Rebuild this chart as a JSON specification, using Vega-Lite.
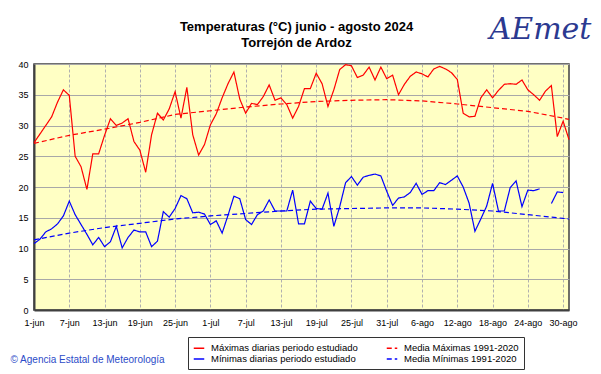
{
  "$schema": "https://vega.github.io/schema/vega-lite/v6.json",
  "width": 535,
  "height": 246,
  "autosize": {"type": "none"},
  "padding": {"left": 34, "top": 64, "right": 32, "bottom": 64},
  "background": "white",
  "title": {
    "text": ["Temperaturas (°C) junio - agosto 2024", "Torrejón de Ardoz"],
    "font": "Liberation Sans",
    "fontSize": 13,
    "fontWeight": "bold",
    "color": "black",
    "lineHeight": 16,
    "anchor": "middle",
    "offset": 0,
    "dx": -5,
    "dy": 36
  },
  "config": {
    "view": {"fill": "#FFFFC4", "stroke": "#404040", "strokeWidth": 1.5},
    "font": "Liberation Sans",
    "axis": {
      "labelFont": "Liberation Sans",
      "labelFontSize": 9,
      "labelColor": "black",
      "ticks": false,
      "domainColor": "#404040",
      "domainWidth": 2,
      "gridColor": "#A8A8A8",
      "gridOpacity": 1
    }
  },
  "data": {
    "values": [
      {"fecha": "2024-06-01", "tmax": 27.2, "tmin": 10.8, "nmax": 27.1, "nmin": 11.4},
      {"fecha": "2024-06-02", "tmax": 28.6, "tmin": 11.5, "nmax": null, "nmin": null},
      {"fecha": "2024-06-03", "tmax": 30.0, "tmin": 12.7, "nmax": null, "nmin": null},
      {"fecha": "2024-06-04", "tmax": 31.4, "tmin": 13.2, "nmax": null, "nmin": null},
      {"fecha": "2024-06-05", "tmax": 33.8, "tmin": 14.0, "nmax": null, "nmin": null},
      {"fecha": "2024-06-06", "tmax": 35.8, "tmin": 15.3, "nmax": null, "nmin": null},
      {"fecha": "2024-06-07", "tmax": 34.9, "tmin": 17.7, "nmax": 28.4, "nmin": 12.5},
      {"fecha": "2024-06-08", "tmax": 25.0, "tmin": 15.5, "nmax": null, "nmin": null},
      {"fecha": "2024-06-09", "tmax": 23.3, "tmin": 13.9, "nmax": null, "nmin": null},
      {"fecha": "2024-06-10", "tmax": 19.6, "tmin": 12.3, "nmax": null, "nmin": null},
      {"fecha": "2024-06-11", "tmax": 25.4, "tmin": 10.6, "nmax": null, "nmin": null},
      {"fecha": "2024-06-12", "tmax": 25.4, "tmin": 11.8, "nmax": null, "nmin": null},
      {"fecha": "2024-06-13", "tmax": 28.4, "tmin": 10.3, "nmax": 29.4, "nmin": 13.4},
      {"fecha": "2024-06-14", "tmax": 31.1, "tmin": 11.1, "nmax": null, "nmin": null},
      {"fecha": "2024-06-15", "tmax": 30.0, "tmin": 13.6, "nmax": null, "nmin": null},
      {"fecha": "2024-06-16", "tmax": 30.4, "tmin": 10.1, "nmax": null, "nmin": null},
      {"fecha": "2024-06-17", "tmax": 31.1, "tmin": 11.8, "nmax": null, "nmin": null},
      {"fecha": "2024-06-18", "tmax": 27.4, "tmin": 13.0, "nmax": null, "nmin": null},
      {"fecha": "2024-06-19", "tmax": 26.0, "tmin": 12.7, "nmax": 30.5, "nmin": 14.1},
      {"fecha": "2024-06-20", "tmax": 22.4, "tmin": 12.7, "nmax": null, "nmin": null},
      {"fecha": "2024-06-21", "tmax": 28.5, "tmin": 10.3, "nmax": null, "nmin": null},
      {"fecha": "2024-06-22", "tmax": 32.0, "tmin": 11.2, "nmax": null, "nmin": null},
      {"fecha": "2024-06-23", "tmax": 30.9, "tmin": 16.0, "nmax": null, "nmin": null},
      {"fecha": "2024-06-24", "tmax": 32.7, "tmin": 15.1, "nmax": null, "nmin": null},
      {"fecha": "2024-06-25", "tmax": 35.5, "tmin": 16.5, "nmax": 31.8, "nmin": 14.8},
      {"fecha": "2024-06-26", "tmax": 31.2, "tmin": 18.6, "nmax": null, "nmin": null},
      {"fecha": "2024-06-27", "tmax": 36.2, "tmin": 18.1, "nmax": null, "nmin": null},
      {"fecha": "2024-06-28", "tmax": 28.5, "tmin": 15.8, "nmax": null, "nmin": null},
      {"fecha": "2024-06-29", "tmax": 25.2, "tmin": 15.9, "nmax": null, "nmin": null},
      {"fecha": "2024-06-30", "tmax": 26.9, "tmin": 15.6, "nmax": null, "nmin": null},
      {"fecha": "2024-07-01", "tmax": 30.1, "tmin": 13.9, "nmax": 32.4, "nmin": 15.3},
      {"fecha": "2024-07-02", "tmax": 31.9, "tmin": 14.5, "nmax": null, "nmin": null},
      {"fecha": "2024-07-03", "tmax": 34.5, "tmin": 12.5, "nmax": null, "nmin": null},
      {"fecha": "2024-07-04", "tmax": 36.8, "tmin": 15.4, "nmax": null, "nmin": null},
      {"fecha": "2024-07-05", "tmax": 38.7, "tmin": 18.5, "nmax": null, "nmin": null},
      {"fecha": "2024-07-06", "tmax": 34.3, "tmin": 18.1, "nmax": null, "nmin": null},
      {"fecha": "2024-07-07", "tmax": 32.0, "tmin": 14.7, "nmax": 33.0, "nmin": 15.7},
      {"fecha": "2024-07-08", "tmax": 33.6, "tmin": 13.9, "nmax": null, "nmin": null},
      {"fecha": "2024-07-09", "tmax": 33.4, "tmin": 15.5, "nmax": null, "nmin": null},
      {"fecha": "2024-07-10", "tmax": 34.7, "tmin": 16.1, "nmax": null, "nmin": null},
      {"fecha": "2024-07-11", "tmax": 36.6, "tmin": 17.9, "nmax": null, "nmin": null},
      {"fecha": "2024-07-12", "tmax": 34.1, "tmin": 16.1, "nmax": null, "nmin": null},
      {"fecha": "2024-07-13", "tmax": 34.5, "tmin": 16.1, "nmax": 33.5, "nmin": 16.1},
      {"fecha": "2024-07-14", "tmax": 33.4, "tmin": 16.1, "nmax": null, "nmin": null},
      {"fecha": "2024-07-15", "tmax": 31.2, "tmin": 19.5, "nmax": null, "nmin": null},
      {"fecha": "2024-07-16", "tmax": 33.1, "tmin": 14.0, "nmax": null, "nmin": null},
      {"fecha": "2024-07-17", "tmax": 36.0, "tmin": 14.0, "nmax": null, "nmin": null},
      {"fecha": "2024-07-18", "tmax": 36.0, "tmin": 17.7, "nmax": null, "nmin": null},
      {"fecha": "2024-07-19", "tmax": 38.5, "tmin": 16.5, "nmax": 33.9, "nmin": 16.4},
      {"fecha": "2024-07-20", "tmax": 36.8, "tmin": 16.4, "nmax": null, "nmin": null},
      {"fecha": "2024-07-21", "tmax": 33.1, "tmin": 19.0, "nmax": null, "nmin": null},
      {"fecha": "2024-07-22", "tmax": 35.8, "tmin": 13.6, "nmax": null, "nmin": null},
      {"fecha": "2024-07-23", "tmax": 39.1, "tmin": 16.8, "nmax": null, "nmin": null},
      {"fecha": "2024-07-24", "tmax": 39.9, "tmin": 20.7, "nmax": null, "nmin": null},
      {"fecha": "2024-07-25", "tmax": 39.7, "tmin": 21.7, "nmax": 34.1, "nmin": 16.5},
      {"fecha": "2024-07-26", "tmax": 37.8, "tmin": 20.3, "nmax": null, "nmin": null},
      {"fecha": "2024-07-27", "tmax": 38.2, "tmin": 21.6, "nmax": null, "nmin": null},
      {"fecha": "2024-07-28", "tmax": 39.5, "tmin": 21.9, "nmax": null, "nmin": null},
      {"fecha": "2024-07-29", "tmax": 37.4, "tmin": 22.1, "nmax": null, "nmin": null},
      {"fecha": "2024-07-30", "tmax": 39.5, "tmin": 21.8, "nmax": null, "nmin": null},
      {"fecha": "2024-07-31", "tmax": 37.6, "tmin": 19.3, "nmax": 34.2, "nmin": 16.6},
      {"fecha": "2024-08-01", "tmax": 38.2, "tmin": 17.0, "nmax": null, "nmin": null},
      {"fecha": "2024-08-02", "tmax": 35.0, "tmin": 18.2, "nmax": null, "nmin": null},
      {"fecha": "2024-08-03", "tmax": 36.7, "tmin": 18.4, "nmax": null, "nmin": null},
      {"fecha": "2024-08-04", "tmax": 38.0, "tmin": 19.1, "nmax": null, "nmin": null},
      {"fecha": "2024-08-05", "tmax": 38.7, "tmin": 20.6, "nmax": null, "nmin": null},
      {"fecha": "2024-08-06", "tmax": 38.4, "tmin": 18.8, "nmax": 34.0, "nmin": 16.6},
      {"fecha": "2024-08-07", "tmax": 37.9, "tmin": 19.4, "nmax": null, "nmin": null},
      {"fecha": "2024-08-08", "tmax": 39.2, "tmin": 19.4, "nmax": null, "nmin": null},
      {"fecha": "2024-08-09", "tmax": 39.6, "tmin": 20.7, "nmax": null, "nmin": null},
      {"fecha": "2024-08-10", "tmax": 39.2, "tmin": 20.4, "nmax": null, "nmin": null},
      {"fecha": "2024-08-11", "tmax": 38.6, "tmin": 21.1, "nmax": null, "nmin": null},
      {"fecha": "2024-08-12", "tmax": 37.5, "tmin": 21.8, "nmax": 33.5, "nmin": 16.4},
      {"fecha": "2024-08-13", "tmax": 32.0, "tmin": 20.0, "nmax": null, "nmin": null},
      {"fecha": "2024-08-14", "tmax": 31.4, "tmin": 17.4, "nmax": null, "nmin": null},
      {"fecha": "2024-08-15", "tmax": 31.5, "tmin": 12.8, "nmax": null, "nmin": null},
      {"fecha": "2024-08-16", "tmax": 34.5, "tmin": 14.8, "nmax": null, "nmin": null},
      {"fecha": "2024-08-17", "tmax": 35.8, "tmin": 16.9, "nmax": null, "nmin": null},
      {"fecha": "2024-08-18", "tmax": 34.5, "tmin": 20.6, "nmax": 32.9, "nmin": 16.1},
      {"fecha": "2024-08-19", "tmax": 35.7, "tmin": 16.1, "nmax": null, "nmin": null},
      {"fecha": "2024-08-20", "tmax": 36.7, "tmin": 16.1, "nmax": null, "nmin": null},
      {"fecha": "2024-08-21", "tmax": 36.8, "tmin": 19.9, "nmax": null, "nmin": null},
      {"fecha": "2024-08-22", "tmax": 36.7, "tmin": 21.0, "nmax": null, "nmin": null},
      {"fecha": "2024-08-23", "tmax": 37.4, "tmin": 16.8, "nmax": null, "nmin": null},
      {"fecha": "2024-08-24", "tmax": 35.8, "tmin": 19.5, "nmax": 32.3, "nmin": 15.5},
      {"fecha": "2024-08-25", "tmax": 35.0, "tmin": 19.4, "nmax": null, "nmin": null},
      {"fecha": "2024-08-26", "tmax": 34.1, "tmin": 19.7, "nmax": null, "nmin": null},
      {"fecha": "2024-08-27", "tmax": 35.6, "tmin": null, "nmax": null, "nmin": null},
      {"fecha": "2024-08-28", "tmax": 36.5, "tmin": 17.3, "nmax": null, "nmin": null},
      {"fecha": "2024-08-29", "tmax": 28.2, "tmin": 19.2, "nmax": null, "nmin": null},
      {"fecha": "2024-08-30", "tmax": 30.7, "tmin": 19.1, "nmax": 31.2, "nmin": 14.9},
      {"fecha": "2024-08-31", "tmax": 27.7, "tmin": null, "nmax": 31.0, "nmin": 14.8}
    ]
  },
  "transform": [
    {"fold": ["tmax", "tmin", "nmax", "nmin"], "as": ["serie", "valor"]},
    {"filter": "datum.valor != null || datum.serie == 'tmin' || datum.serie == 'tmax'"}
  ],
  "mark": {"type": "line", "strokeWidth": 1.2, "invalid": "break-paths-show-domains"},
  "encoding": {
    "x": {
      "field": "fecha",
      "type": "temporal",
      "scale": {
        "type": "utc",
        "domain": [
          {"year": 2024, "month": 6, "date": 1, "utc": true},
          {"year": 2024, "month": 8, "date": 31, "utc": true}
        ]
      },
      "axis": {
        "title": "© Agencia Estatal de Meteorología",
        "titleFont": "Liberation Sans",
        "titleFontSize": 10,
        "titleFontWeight": "normal",
        "titleColor": "#2B4BC8",
        "titleX": -24,
        "titleY": 52,
        "titleAlign": "left",
        "titleAnchor": null,
        "titleBaseline": "alphabetic",
        "labelPadding": 8,
        "labelFlush": false,
        "labelOverlap": false,
        "labelExpr": "utcdate(datum.value) + '-' + ['ene','feb','mar','abr','may','jun','jul','ago','sep','oct','nov','dic'][utcmonth(datum.value)]",
        "values": [
          {"year": 2024, "month": 6, "date": 1, "utc": true},
          {"year": 2024, "month": 6, "date": 7, "utc": true},
          {"year": 2024, "month": 6, "date": 13, "utc": true},
          {"year": 2024, "month": 6, "date": 19, "utc": true},
          {"year": 2024, "month": 6, "date": 25, "utc": true},
          {"year": 2024, "month": 7, "date": 1, "utc": true},
          {"year": 2024, "month": 7, "date": 7, "utc": true},
          {"year": 2024, "month": 7, "date": 13, "utc": true},
          {"year": 2024, "month": 7, "date": 19, "utc": true},
          {"year": 2024, "month": 7, "date": 25, "utc": true},
          {"year": 2024, "month": 7, "date": 31, "utc": true},
          {"year": 2024, "month": 8, "date": 6, "utc": true},
          {"year": 2024, "month": 8, "date": 12, "utc": true},
          {"year": 2024, "month": 8, "date": 18, "utc": true},
          {"year": 2024, "month": 8, "date": 24, "utc": true},
          {"year": 2024, "month": 8, "date": 30, "utc": true}
        ],
        "gridDash": [3, 2],
        "gridColor": "#B0B0B0"
      }
    },
    "y": {
      "field": "valor",
      "type": "quantitative",
      "scale": {"domain": [0, 40], "nice": false, "zero": true},
      "axis": {
        "title": "AEmet",
        "titleFont": "DejaVu Serif",
        "titleFontStyle": "italic",
        "titleFontWeight": "normal",
        "titleFontSize": 30,
        "titleColor": "#2B3990",
        "titleAngle": 0,
        "titleX": 506,
        "titleY": -26,
        "titleAlign": "center",
        "titleAnchor": null,
        "titleBaseline": "alphabetic",
        "values": [0, 5, 10, 15, 20, 25, 30, 35, 40],
        "labelPadding": 6
      }
    },
    "color": {
      "field": "serie",
      "type": "nominal",
      "scale": {
        "domain": ["tmax", "tmin", "nmax", "nmin"],
        "range": ["#FF0000", "#0000FF", "#FF0000", "#0000FF"]
      },
      "legend": {
        "title": null,
        "orient": "none",
        "legendX": 154,
        "legendY": 273,
        "columns": 2,
        "columnPadding": 26,
        "rowPadding": 0,
        "padding": 5,
        "strokeColor": "#333333",
        "fillColor": "white",
        "symbolType": "stroke",
        "symbolSize": 110,
        "symbolStrokeWidth": 1.3,
        "labelFontSize": 9.5,
        "labelOffset": 6,
        "labelFont": "Liberation Sans",
        "labelExpr": "datum.label == 'tmax' ? 'Máximas diarias periodo estudiado' : datum.label == 'tmin' ? 'Mínimas diarias periodo estudiado' : datum.label == 'nmax' ? 'Media Máximas 1991-2020' : 'Media Mínimas 1991-2020'"
      }
    },
    "strokeDash": {
      "field": "serie",
      "type": "nominal",
      "scale": {
        "domain": ["tmax", "tmin", "nmax", "nmin"],
        "range": [[1, 0], [1, 0], [5, 3], [5, 3]]
      },
      "legend": {
        "title": null,
        "orient": "none",
        "legendX": 154,
        "legendY": 273,
        "columns": 2,
        "columnPadding": 26,
        "rowPadding": 0,
        "padding": 5,
        "strokeColor": "#333333",
        "fillColor": "white",
        "symbolType": "stroke",
        "symbolSize": 110,
        "symbolStrokeWidth": 1.3,
        "labelFontSize": 9.5,
        "labelOffset": 6,
        "labelFont": "Liberation Sans",
        "labelExpr": "datum.label == 'tmax' ? 'Máximas diarias periodo estudiado' : datum.label == 'tmin' ? 'Mínimas diarias periodo estudiado' : datum.label == 'nmax' ? 'Media Máximas 1991-2020' : 'Media Mínimas 1991-2020'"
      }
    }
  }
}
